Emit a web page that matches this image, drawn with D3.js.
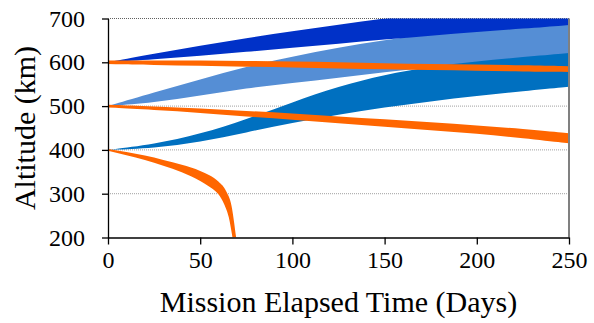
<!DOCTYPE html>
<html>
<head>
<meta charset="utf-8">
<script src="https://cdn.jsdelivr.net/npm/d3@7"></script>
<style>
  body { margin: 0; background: #fff; }
  text { font-family: "Liberation Serif", "Times New Roman", serif; fill: #000; }
</style>
</head>
<body>
<div id="chart"></div>
<script>
// days sampled for the blue bands and two upper orange bands
var days = [0, 25, 50, 75, 100, 125, 150, 175, 200, 225, 250];

// 600 km start, dark blue
var darkTop = [600, 620, 638, 655, 671, 686, 700, 713, 724, 734, 744];
var darkBot = [600, 607, 615, 624, 633, 642, 652, 661, 669, 677, 685];
// 500 km start, light blue
var lightTop = [500, 531, 561, 590, 613, 634, 651, 664, 676, 684, 690];
var lightBot = [500, 508, 524, 541, 553, 565, 577, 590, 600, 608, 615];
// 400 km start, medium blue
var midTop = [400, 413, 436, 470, 509, 545, 572, 590, 602, 612, 621];
var midBot = [400, 404, 418, 440, 462, 481, 497, 511, 523, 534, 544];
// orange bands
var or600Top = [604, 604, 604, 603, 602, 600, 598, 596, 595, 593, 591];
var or600Bot = [596, 594, 592, 590, 588, 586, 584, 582, 581, 579, 578];
var or500Top = [503, 499, 495, 489, 483, 476, 470, 463, 456, 448, 438];
var or500Bot = [497, 491, 485, 476, 469, 461, 453, 445, 437, 427, 415];
// 400 km orange band decays, edges sampled separately
var or400TopDays = [0, 10, 20, 30, 40, 50, 55, 60, 64, 67, 69.5];
var or400TopAlt = [402, 395, 387, 377, 366, 352, 342, 327, 306, 272, 200];
var or400BotDays = [0, 10, 20, 30, 40, 50, 55, 60, 63, 65.5, 67.5];
var or400BotAlt = [398, 388, 377, 364, 349, 329, 316, 298, 276, 246, 200];

var xTicks = [0, 50, 100, 150, 200, 250];
var yTicks = [200, 300, 400, 500, 600, 700];

var W = 594, H = 323;
var x = d3.scaleLinear().domain([0, 250]).range([108, 569]);
var y = d3.scaleLinear().domain([200, 700]).range([237.5, 18.5]);

var svg = d3.select("#chart")
    .append("svg")
    .attr("width", W)
    .attr("height", H);

svg.append("clipPath").attr("id", "plot")
    .append("rect")
    .attr("x", x(0)).attr("y", y(700))
    .attr("width", x(250) - x(0)).attr("height", y(200) - y(700));

// gridlines
svg.append("g").selectAll("line")
    .data(yTicks.slice(1))
    .enter().append("line")
    .attr("x1", x(0)).attr("x2", x(250))
    .attr("y1", function(d){ return y(d); })
    .attr("y2", function(d){ return y(d); })
    .attr("stroke", function(d){ return d == 700 ? "#606060" : "#a0a0a0"; })
    .attr("stroke-width", 1)
    .attr("stroke-dasharray", "1,1");

function band(top, bot) {
    var rows = days.map(function(d, i){ return {day: d, hi: top[i], lo: bot[i]}; });
    return d3.area()
        .x(function(r){ return x(r.day); })
        .y0(function(r){ return y(r.lo); })
        .y1(function(r){ return y(r.hi); })
        .curve(d3.curveBasis)(rows);
}

var g = svg.append("g").attr("clip-path", "url(#plot)");

g.append("path").attr("d", band(lightTop, lightBot)).attr("fill", "#558ED5");
g.append("path").attr("d", band(darkTop, darkBot)).attr("fill", "#0031C8");
g.append("path").attr("d", band(midTop, midBot)).attr("fill", "#0070C0");
g.append("path").attr("d", band(or600Top, or600Bot)).attr("fill", "#FF6600");
g.append("path").attr("d", band(or500Top, or500Bot)).attr("fill", "#FF6600");

// decaying band: upper edge forward, lower edge back
var edge = d3.line()
    .x(function(p){ return x(p[0]); })
    .y(function(p){ return y(p[1]); })
    .curve(d3.curveMonotoneX);
var upper = or400TopDays.map(function(d, i){ return [d, or400TopAlt[i]]; });
var lower = or400BotDays.map(function(d, i){ return [d, or400BotAlt[i]]; }).reverse();
g.append("path")
    .attr("d", edge(upper) + edge(lower).replace("M", "L") + "Z")
    .attr("fill", "#FF6600");

// right border
svg.append("line")
    .attr("x1", x(250)).attr("x2", x(250))
    .attr("y1", y(700)).attr("y2", y(200))
    .attr("stroke", "#808080").attr("stroke-width", 2);

// axes
var xAxis = svg.append("g")
    .attr("transform", "translate(0," + y(200) + ")")
    .call(d3.axisBottom(x).tickValues(xTicks).tickSize(7).tickPadding(6).tickSizeOuter(0));
var yAxis = svg.append("g")
    .attr("transform", "translate(" + x(0) + ",0)")
    .call(d3.axisLeft(y).tickValues(yTicks).tickSize(6).tickPadding(17).tickSizeOuter(0));

[xAxis, yAxis].forEach(function(a){
    a.attr("font-family", "Liberation Serif").attr("font-size", 24);
    a.select(".domain").attr("stroke", "#000").attr("stroke-width", 1.3);
    a.selectAll(".tick line").attr("stroke", "#000").attr("stroke-width", 1.3);
    a.selectAll(".tick text")
        .style("font-family", "'Liberation Serif', 'Times New Roman', serif")
        .style("font-size", "24px")
        .attr("fill", "#000");
});

svg.append("text")
    .attr("x", (x(0) + x(250)) / 2)
    .attr("y", 312)
    .attr("text-anchor", "middle")
    .style("font-size", "30px")
    .text("Mission Elapsed Time (Days)");

svg.append("text")
    .attr("transform", "translate(35," + (y(200) + y(700)) / 2 + ") rotate(-90)")
    .attr("text-anchor", "middle")
    .style("font-size", "30px")
    .text("Altitude (km)");
</script>
</body>
</html>
